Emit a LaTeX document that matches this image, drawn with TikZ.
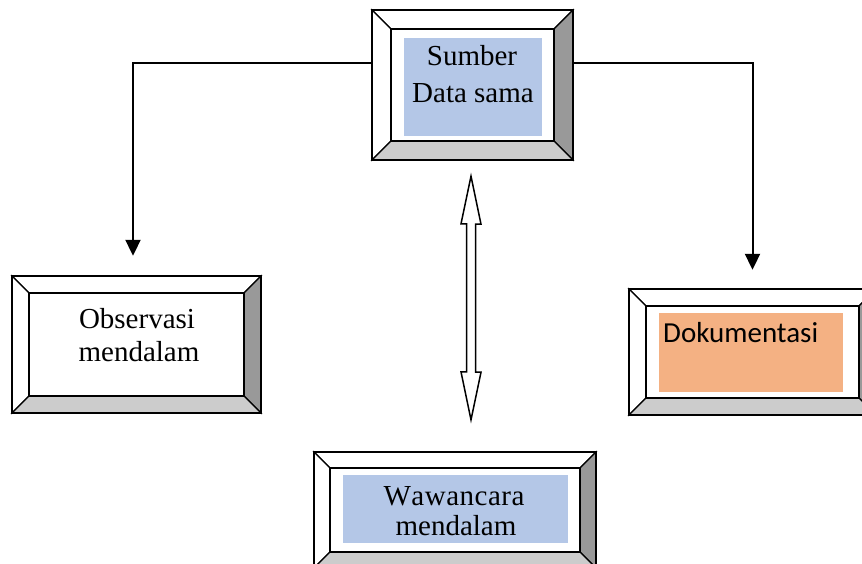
\documentclass[tikz,border=0pt]{standalone}
\usepackage{fontspec}
\setmainfont{Liberation Serif}
\newfontfamily\sansbody{Carlito}
\usetikzlibrary{arrows.meta}

\definecolor{paleblue}{HTML}{B4C7E7}
\definecolor{paleorange}{HTML}{F4B183}
\definecolor{bevdark}{HTML}{999999}
\definecolor{bevlight}{HTML}{CCCCCC}

\tikzset{
  frame/.style={draw=black, line width=1.8pt},
  facet/.style={draw=black, line width=1.2pt, line join=miter},
  conn/.style={line width=2pt, -{Triangle[width=15pt,length=16pt]}},
  txt/.style={font=\fontsize{29}{34}\selectfont, inner sep=0pt, anchor=base},
  hollow/.style={draw=black, line width=1.5pt, fill=white, line join=miter},
}

% bevelled frame: name, x1, y1, x2, y2, bevel width
\newcommand\bevelbox[6]{%
  \path[facet, fill=white] (#2,#3) -- (#4,#3) -- ({#4-#6},{#3+#6}) -- ({#2+#6},{#3+#6}) -- cycle;
  \path[facet, fill=white] (#2,#3) -- ({#2+#6},{#3+#6}) -- ({#2+#6},{#5-#6}) -- (#2,#5) -- cycle;
  \path[facet, fill=bevdark] (#4,#3) -- (#4,#5) -- ({#4-#6},{#5-#6}) -- ({#4-#6},{#3+#6}) -- cycle;
  \path[facet, fill=bevlight] (#2,#5) -- (#4,#5) -- ({#4-#6},{#5-#6}) -- ({#2+#6},{#5-#6}) -- cycle;
  \draw[frame] ({#2+#6},{#3+#6}) rectangle ({#4-#6},{#5-#6});
  \draw[frame] (#2,#3) rectangle (#4,#5);
  \node[inner sep=0pt, minimum width={#4-#2}, minimum height={#5-#3}]
    (#1) at ({(#2+#4)/2},{(#3+#5)/2}) {};
}

\begin{document}
\begin{tikzpicture}[x=1pt, y=-1pt]
  \useasboundingbox (0,0) rectangle (862,563);
  \fill[white] (0,0) rectangle (862,563);
  \clip (0,0) rectangle (862,563);

  % source box
  \bevelbox{src}{372}{10}{573}{160}{19}
  \fill[paleblue] (404,38) rectangle (542,136);
  \node[txt] (srcA) at (472,65) {Sumber};
  \node[txt] (srcB) at (473,102) {Data sama};

  % observation box
  \bevelbox{obs}{12}{276}{261}{413}{17}
  \node[txt] (obsA) at (137,328) {Observasi};
  \node[txt] (obsB) at (139,361) {mendalam};

  % documentation box
  \bevelbox{doc}{629}{289}{876}{415}{17}
  \fill[paleorange] (659,313) rectangle (843,392);
  \node[txt, anchor=base west, font=\sansbody\fontsize{29}{34}\selectfont] (docA) at (663,342) {Dokumentasi};

  % interview box
  \bevelbox{itv}{314}{452}{596}{568}{16}
  \fill[paleblue] (343,475) rectangle (568,543);
  \node[txt] (itvA) at (454,505) {W\kern0.5pt a\kern0.5pt w\kern0.5pt a\kern0.5pt n\kern0.5pt c\kern0.5pt a\kern0.5pt r\kern0.5pt a};
  \node[txt] (itvB) at (456,535) {mendalam};

  % connectors
  \draw[conn] ([yshift=22pt]src.west) -| ([xshift=-3.5pt,yshift=20pt]obs.north);
  \draw[conn] ([yshift=22pt]src.east) -| ([yshift=19pt]doc.north);

  % two-way hollow arrow between source and interview
  \coordinate (up) at ([yshift=-16pt]src.south -| 471,0);
  \coordinate (dn) at ([yshift=32pt]itv.north -| 471,0);
  \draw[hollow] (up) -- ++(10,48) -- ++(-5.5,0) -- ++(0,148) -- ++(5.5,0) -- (dn)
    -- ++(-10,-48) -- ++(5.5,0) -- ++(0,-148) -- ++(-5.5,0) -- cycle;
\end{tikzpicture}
\end{document}
